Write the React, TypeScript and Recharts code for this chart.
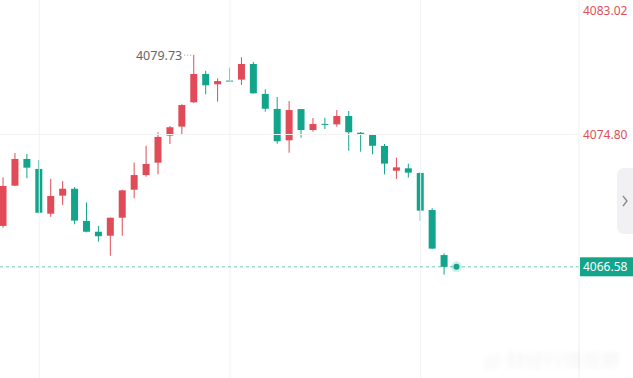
import React from 'react'
import {
  ComposedChart, Bar, XAxis, YAxis, ReferenceLine, ReferenceDot,
} from 'recharts'

// candle values (red = up, green = down)
const opens  = [4069.12, 4071.62, 4073.28, 4072.66, 4069.88, 4071.00, 4071.43, 4069.43, 4068.76, 4068.51,
                4069.63, 4071.37, 4072.28, 4073.05, 4074.73, 4075.29, 4076.80, 4078.56, 4077.92, 4078.15,
                4078.21, 4079.18, 4077.32, 4076.39, 4074.44, 4076.38, 4075.08, 4075.46, 4075.43, 4075.95,
                4074.91, 4074.77, 4074.09, 4072.55, 4072.70, 4072.41, 4070.11, 4067.31]
const highs  = [4072.14, 4073.65, 4073.59, 4073.22, 4072.05, 4071.91, 4071.54, 4070.58, 4069.12, 4069.63,
                4071.37, 4073.05, 4074.10, 4074.94, 4075.33, 4076.68, 4079.73, 4078.76, 4078.29, 4078.95,
                4079.60, 4079.31, 4077.61, 4077.13, 4076.88, 4076.38, 4075.83, 4075.84, 4076.32, 4076.26,
                4074.96, 4074.81, 4074.21, 4073.36, 4072.99, 4072.47, 4070.22, 4067.42]
const lows   = [4069.01, 4071.60, 4072.08, 4069.90, 4069.69, 4070.42, 4069.22, 4068.72, 4068.14, 4067.27,
                4068.51, 4070.84, 4072.18, 4072.33, 4074.21, 4074.81, 4076.76, 4077.30, 4076.84, 4078.06,
                4077.88, 4077.34, 4076.22, 4074.23, 4073.67, 4074.60, 4074.98, 4075.14, 4075.29, 4073.79,
                4073.73, 4073.57, 4072.33, 4072.04, 4072.12, 4069.43, 4067.69, 4066.09]
const closes = [4071.60, 4073.28, 4072.74, 4069.94, 4070.98, 4071.43, 4069.45, 4068.76, 4068.48, 4069.63,
                4071.33, 4072.28, 4072.97, 4074.65, 4075.25, 4076.63, 4078.56, 4077.86, 4078.12, 4078.13,
                4079.18, 4077.36, 4076.40, 4074.38, 4076.32, 4075.08, 4075.45, 4075.44, 4075.95, 4074.94,
                4074.77, 4074.10, 4072.99, 4072.76, 4072.43, 4070.07, 4067.71, 4066.58]

const priceTicks = [4066.58, 4074.80, 4083.02]
const lastPrice  = 4066.58
const peakPrice  = 4079.73
const peakIndex  = 16
const gridCandles = [3, 19, 35]

const UP = '#e14b57'
const DOWN = '#12a58b'
const FONT = '"Noto Sans", Arial, sans-serif'

const data = opens.map((o, i) => ({
  i, open: o, high: highs[i], low: lows[i], close: closes[i],
}))

const Candle = (props: any) => {
  const { x, y, width, height, payload } = props
  if (x == null || !payload) return null
  const top = Math.min(y, y + height)
  const h = Math.abs(height)
  const { open, close, high, low } = payload
  const k = high - low > 0 ? h / (high - low) : 0
  const bodyTop = top + (high - Math.max(open, close)) * k
  const bodyH = Math.max(1, Math.abs(open - close) * k)
  const color = close > open ? UP : DOWN
  const cx = x + width / 2
  return (
    <g>
      <line x1={cx} x2={cx} y1={top} y2={top + h} stroke={color} strokeWidth={1} />
      <rect x={x} y={bodyTop} width={width} height={bodyH} fill={color} />
    </g>
  )
}

const PriceTick = (props: any) => {
  const { x, y, payload } = props
  const v = payload.value
  if (v === lastPrice) {
    return (
      <g>
        <rect x={x + 1} y={y - 9.5} width={54} height={19} fill={DOWN} />
        <text x={x + 4} y={y + 4.5} fill="#fff" fontSize={12} fontFamily={FONT}>{v.toFixed(2)}</text>
      </g>
    )
  }
  const ty = Math.max(y, 10)
  return (
    <text x={x + 4} y={ty + 4.5} fill="#e0505c" fontSize={12} fontFamily={FONT}>{v.toFixed(2)}</text>
  )
}

const PeakMark = (props: any) => {
  const { cx, cy } = props
  return (
    <g>
      <text x={cx - 12} y={cy + 4.5} textAnchor="end" fill="#666" fontSize={12.5} fontFamily={FONT}>
        {peakPrice.toFixed(2)}
      </text>
      <line x1={cx - 10} x2={cx} y1={cy} y2={cy} stroke="#999" strokeDasharray="1 2" />
    </g>
  )
}

const LastDot = (props: any) => {
  const { cx, cy } = props
  return (
    <g>
      <circle cx={cx} cy={cy} r={5.5} fill={DOWN} fillOpacity={0.2} />
      <circle cx={cx} cy={cy} r={3} fill={DOWN} />
    </g>
  )
}

export default function App() {
  return (
    <div style={{ position: 'absolute', left: 0, top: 0, width: 633, height: 378, background: '#fff', overflow: 'hidden' }}>
      <ComposedChart width={633} height={378} data={data} margin={{ top: 0, right: 0, left: 0, bottom: 0 }}>
        <XAxis dataKey="i" type="number" domain={[-0.294, 48.28]} hide allowDataOverflow />
        <YAxis
          orientation="right" width={54}
          domain={[4059.671, 4083.157]} allowDataOverflow
          ticks={priceTicks} interval={0}
          tick={<PriceTick />} tickLine={false} tickSize={0} tickMargin={0}
          axisLine={{ stroke: '#efefef' }}
        />
        {gridCandles.map(g => (
          <ReferenceLine key={g} x={g} stroke="#f2f2f2" />
        ))}
        <ReferenceLine y={priceTicks[1]} stroke="#f2f2f2" />
        <ReferenceLine y={lastPrice} stroke={DOWN} strokeOpacity={0.6} strokeDasharray="3 3" />
        <Bar
          dataKey={(d: any) => [d.low, d.high]}
          barSize={7}
          shape={<Candle />}
          isAnimationActive={false}
        />
        <ReferenceDot x={peakIndex} y={peakPrice} shape={<PeakMark />} />
        <ReferenceDot x={opens.length} y={lastPrice} shape={<LastDot />} />
      </ComposedChart>
      <div style={{
        position: 'absolute', left: 617, top: 168, width: 16, height: 66,
        background: '#f1f1f3', borderRadius: '7px 0 0 7px',
      }}>
        <svg width={16} height={66}>
          <polyline points="6,28 10,33 6,38" fill="none" stroke="#888" strokeWidth={1.3} />
        </svg>
      </div>
      <div style={{
        position: 'absolute', left: 484, top: 346, fontSize: 19, color: '#000',
        opacity: 0.05, filter: 'blur(2.5px)', fontFamily: '"Noto Sans CJK SC", sans-serif',
        whiteSpace: 'nowrap',
      }}>
        @ 财经行情观察
      </div>
    </div>
  )
}
